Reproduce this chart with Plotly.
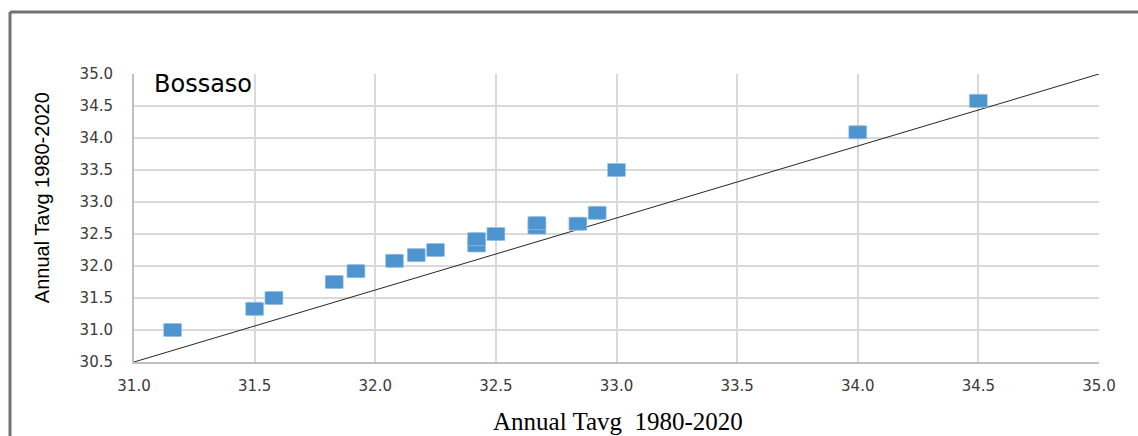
import plotly.graph_objects as go

# Annual mean temperature pairs, Bossaso station (deg C)
tavg_x = [31.16, 31.50, 31.58, 31.83, 31.92, 32.08, 32.17, 32.25, 32.42, 32.42,
          32.50, 32.67, 32.67, 32.84, 32.92, 33.00, 34.00, 34.50]
tavg_y = [31.00, 31.33, 31.50, 31.75, 31.92, 32.08, 32.17, 32.25, 32.32, 32.42,
          32.50, 32.60, 32.67, 32.66, 32.83, 33.50, 34.09, 34.58]

# reference line across the plotting window
ref_x = [31.0, 35.0]
ref_y = [30.5, 35.0]

x_ticks = [31.0, 31.5, 32.0, 32.5, 33.0, 33.5, 34.0, 34.5, 35.0]
y_ticks = [30.5, 31.0, 31.5, 32.0, 32.5, 33.0, 33.5, 34.0, 34.5, 35.0]

station = "Bossaso"
x_title = "Annual Tavg&nbsp; 1980-2020"
y_title = "Annual Tavg 1980-2020"

BLUE = "#4e95d0"
GRID = "#d9d9d9"
TICK_FONT = dict(family="DejaVu Sans", size=15, color="#3a3a3a")

fig = go.Figure()

fig.add_trace(go.Scatter(
    x=ref_x, y=ref_y, mode="lines",
    line=dict(color="#262626", width=1), hoverinfo="skip", showlegend=False,
))

fig.add_trace(go.Scatter(
    x=tavg_x, y=tavg_y, mode="markers",
    marker=dict(symbol="square", size=13, color=BLUE,
                line=dict(color="#a9cbe8", width=0.6)),
    showlegend=False,
))

# widen each marker into the flat rectangle used by the series style
for xv, yv in zip(tavg_x, tavg_y):
    fig.add_shape(
        type="rect", xref="x", yref="y",
        xsizemode="pixel", ysizemode="pixel",
        xanchor=xv, yanchor=yv,
        x0=-9, x1=9, y0=-6.5, y1=6.5,
        fillcolor=BLUE, line=dict(color="#a9cbe8", width=0.6), layer="above",
    )

# outer chart frame (left and top edges)
fig.add_shape(type="line", xref="paper", yref="paper",
              x0=-0.1285, x1=-0.1285, y0=-0.3, y1=1.2153,
              line=dict(color="#767171", width=3))
fig.add_shape(type="line", xref="paper", yref="paper",
              x0=-0.1285, x1=1.1, y0=1.2153, y1=1.2153,
              line=dict(color="#767171", width=3))

fig.add_annotation(text=station, xref="paper", yref="paper",
                   x=0.019, y=0.965, xanchor="left", yanchor="middle",
                   showarrow=False,
                   font=dict(family="DejaVu Sans", size=24, color="#000000"))

fig.add_annotation(text=x_title, xref="paper", yref="paper",
                   x=0.502, y=-0.205, xanchor="center", yanchor="middle",
                   showarrow=False,
                   font=dict(family="Liberation Serif", size=25, color="#000000"))

fig.add_annotation(text=y_title, xref="paper", yref="paper",
                   x=-0.095, y=0.57, xanchor="center", yanchor="middle",
                   textangle=-90, showarrow=False,
                   font=dict(family="Liberation Sans Narrow, Liberation Sans",
                             size=20, color="#000000"))

fig.update_xaxes(
    range=[31.0, 35.0], tickvals=x_ticks, ticktext=[f"{v:.1f}" for v in x_ticks],
    showgrid=True, gridcolor=GRID, gridwidth=2,
    showline=True, linecolor="#bfbfbf", linewidth=2, mirror=False,
    zeroline=False, ticks="", ticklabelstandoff=9, tickfont=TICK_FONT,
)
fig.update_yaxes(
    range=[30.5, 35.0], tickvals=y_ticks, ticktext=[f"{v:.1f}" for v in y_ticks],
    showgrid=True, gridcolor=GRID, gridwidth=2,
    showline=True, linecolor="#bfbfbf", linewidth=2, mirror=False,
    zeroline=False, ticks="", ticklabelstandoff=16, tickfont=TICK_FONT,
)

fig.update_layout(
    width=1138, height=436,
    margin=dict(l=134, r=39, t=74, b=74, autoexpand=False),
    paper_bgcolor="white", plot_bgcolor="white",
    showlegend=False,
)

fig.write_html("out.html")
